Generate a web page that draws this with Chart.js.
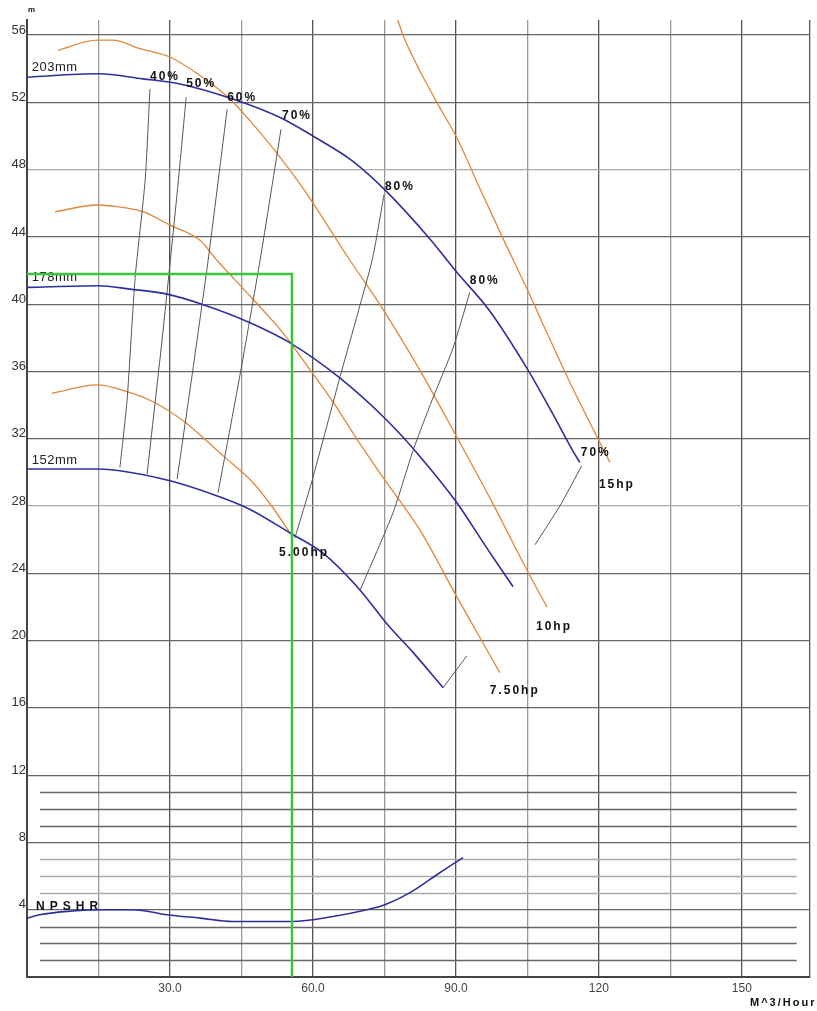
<!DOCTYPE html>
<html>
<head>
<meta charset="utf-8">
<script src="https://cdn.jsdelivr.net/npm/chart.js@4.4.1/dist/chart.umd.min.js"></script>
<style>
html, body { margin: 0; padding: 0; background: #fff; }
#wrap { width: 817px; height: 1011px; position: relative; }
</style>
</head>
<body>
<div id="wrap"><canvas id="curva"></canvas></div>
<script>
// ───── DADOS ─────
const X_TICKS    = [30, 60, 90, 120, 150];
const X_TICK_TXT = ["30.0", "60.0", "90.0", "120", "150"];
const Y_TICKS    = [4, 8, 12, 16, 20, 24, 28, 32, 36, 40, 44, 48, 52, 56];
const NPSH_GRID  = [1, 2, 3, 5, 6, 7, 9, 10, 11];

// rotor curves (m³/h, m)
const IMP_203 = [[0,53.5],[14.9,53.7],[24.3,53.4],[32.1,53.1],[43.2,52.2],[53.1,51.1],[60,50.0],[68.4,48.5],[75.1,46.8],[84.5,43.9],[90.2,41.9],[97.1,39.6],[105.1,36.1],[110.3,33.5],[114.5,31.3],[116,30.6]];
const IMP_178 = [[0.2,41.0],[14.9,41.1],[21.6,40.9],[29.4,40.6],[36.7,40.0],[46.8,38.9],[55.2,37.7],[65.7,35.6],[75.5,33.1],[82.0,31.1],[90.2,28.2],[96.5,25.5],[102.0,23.2]];
const IMP_152 = [[0.2,30.2],[14.9,30.2],[19.5,30.1],[30.0,29.5],[39.9,28.6],[46.8,27.8],[55.2,26.4],[62.1,25.2],[69.9,23.0],[75.5,21.0],[81.0,19.3],[87.3,17.2]];

// potência
const HP_5   = [[5.2,34.7],[14.7,35.2],[21.0,34.8],[26.4,34.2],[33.1,33.0],[41.1,31.0],[47.4,29.4],[51.6,27.9],[55.2,26.4]];
const HP_75  = [[5.9,45.5],[14.7,45.9],[18.9,45.8],[24.3,45.5],[30.0,44.7],[36.3,43.8],[39.9,42.6],[47.4,40.3],[53.7,38.3],[59.4,36.1],[64.2,34.2],[69.2,32.0],[74.7,29.7],[82.4,26.6],[90.2,22.6],[95.0,20.2],[99.2,18.1]];
const HP_10  = [[6.5,55.1],[14.7,55.7],[18.0,55.7],[23.7,55.2],[30.0,54.7],[36.3,53.6],[42.6,52.2],[46.8,50.9],[52.4,49.0],[57.9,46.9],[67.8,42.6],[74.7,39.7],[82.4,36.1],[90.2,32.1],[97.1,28.5],[104.9,24.2],[109.1,22.0]];
const HP_15  = [[77.8,56.9],[78.9,56.0],[86.0,52.0],[90.2,49.9],[95.0,46.9],[99.9,43.9],[105.1,40.8],[109.1,38.3],[114.5,35.0],[120.0,31.9],[122.3,30.6]];

// iso-rendimento
const EFF_40  = [[25.8,52.8],[24.8,47.4],[22.7,41.6],[21.0,34.3],[19.5,30.3]];
const EFF_50  = [[33.4,52.3],[31.5,46.6],[28.5,38.3],[25.2,29.9]];
const EFF_60  = [[42.0,51.6],[38.0,42.6],[34.8,36.1],[31.5,29.6]];
const EFF_70A = [[53.3,50.4],[48.9,42.6],[44.7,35.8],[40.1,28.8]];
const EFF_80A = [[74.9,46.5],[72.4,42.6],[65.7,35.7],[59.8,29.5],[56.2,26.1]];
const EFF_80B = [[92.9,40.7],[89.4,37.4],[85.0,34.3],[81.0,31.3],[76.8,27.6],[69.9,23.0]];
const EFF_70B = [[116.4,30.4],[111.8,28.0],[106.6,25.7]];
const EFF_70C = [[87.3,17.2],[92.3,19.1]];

// ponto de trabalho
const OPER = [[0,41.8],[55.6,41.8],[55.6,0]];

const NPSHR = [[0,3.5],[2.7,3.7],[8.4,3.9],[14.9,4.0],[22.2,4.0],[29.4,3.7],[36.3,3.5],[43.2,3.3],[55.6,3.3],[64.2,3.6],[71.3,4.0],[75.1,4.3],[80.3,5.0],[86.6,6.2],[91.5,7.1]];

// textos: [texto, x, y]
const ROTOR_TXT = [["203mm", 1.0, 54.1], ["178mm", 1.0, 41.6], ["152mm", 1.0, 30.7]];
const BOLD_TXT  = [
    ["40%", 25.8, 53.5], ["50%", 33.4, 53.1], ["60%", 42.0, 52.3], ["70%", 53.5, 51.2],
    ["80%", 75.1, 47.0], ["80%", 92.9, 41.4], ["70%", 116.2, 31.2],
    ["15hp", 120.0, 29.3], ["10hp", 106.8, 20.8], ["7.50hp", 97.1, 17.0], ["5.00hp", 52.9, 25.2]
];

const AZUL    = "#2f2f9c";
const LARANJA = "#e0883a";
const CINZA   = "#555";
const VERDE   = "#3cc43c";

const pts = arr => arr.map(p => ({ x: p[0], y: p[1] }));
// curvas de x -> monotone; linhas de rendimento quase retas
const curva = (arr, cor, w) => ({ data: pts(arr), borderColor: cor, borderWidth: w, cubicInterpolationMode: "monotone", pointRadius: 0, fill: false });
const reta  = (arr, cor, w, t) => ({ data: pts(arr), borderColor: cor, borderWidth: w, tension: t, pointRadius: 0, fill: false });

const extras = {
    id: "extras",
    beforeDatasetsDraw(chart) {
        const { ctx, scales: { x, y } } = chart;
        ctx.save();
        NPSH_GRID.forEach(v => {
            const py = Math.round(y.getPixelForValue(v)) + 0.5;
            ctx.strokeStyle = (v >= 5 && v <= 7) ? "#aaa" : "#666";
            ctx.lineWidth = 1.3;
            ctx.beginPath();
            ctx.moveTo(x.getPixelForValue(2.7), py);
            ctx.lineTo(x.getPixelForValue(161.5), py);
            ctx.stroke();
        });
        ctx.fillStyle = "#222";
        ctx.font = '13px "Liberation Sans"';
        ctx.letterSpacing = "0.5px";
        ctx.textBaseline = "middle";
        ROTOR_TXT.forEach(t => ctx.fillText(t[0], x.getPixelForValue(t[1]), y.getPixelForValue(t[2])));
        ctx.restore();
    },
    afterDatasetsDraw(chart) {
        const { ctx, scales: { x, y } } = chart;
        ctx.save();
        ctx.fillStyle = "#111";
        ctx.textBaseline = "middle";
        ctx.font = 'bold 12px "Liberation Sans"';
        ctx.letterSpacing = "2px";
        BOLD_TXT.forEach(t => ctx.fillText(t[0], x.getPixelForValue(t[1]), y.getPixelForValue(t[2])));
        ctx.letterSpacing = "5px";
        ctx.fillText("NPSHR", x.getPixelForValue(1.9), y.getPixelForValue(4.2));
        ctx.letterSpacing = "2px";
        ctx.font = 'bold 11px "Liberation Sans"';
        ctx.fillText("M^3/Hour", 750, 1003);
        ctx.letterSpacing = "0px";
        ctx.font = 'bold 8px "Liberation Sans"';
        ctx.fillText("m", 28, 10);
        ctx.restore();
    }
};

new Chart(document.getElementById("curva"), {
    type: "line",
    data: {
        datasets: [
            reta(OPER, VERDE, 2.5, 0),
            curva(NPSHR, AZUL, 1.6),
            curva(IMP_203, AZUL, 1.6),
            curva(IMP_178, AZUL, 1.6),
            curva(IMP_152, AZUL, 1.6),
            reta(EFF_40, CINZA, 1, 0.2),
            reta(EFF_50, CINZA, 1, 0.2),
            reta(EFF_60, CINZA, 1, 0.2),
            reta(EFF_70A, CINZA, 1, 0.2),
            reta(EFF_80A, CINZA, 1, 0.2),
            reta(EFF_80B, CINZA, 1, 0.2),
            reta(EFF_70B, CINZA, 1, 0.2),
            reta(EFF_70C, CINZA, 1, 0),
            curva(HP_5, LARANJA, 1.3),
            curva(HP_75, LARANJA, 1.3),
            curva(HP_10, LARANJA, 1.3),
            curva(HP_15, LARANJA, 1.3),
        ]
    },
    options: {
        responsive: true, maintainAspectRatio: false, animation: false,
        layout: { padding: { top: 20, right: 7, left: 0, bottom: 0 } },
        plugins: { legend: { display: false }, tooltip: { enabled: false } },
        scales: {
            x: {
                type: "linear", min: 0, max: 164.3,
                afterBuildTicks: s => {
                    const t = [];
                    for (let v = 0; v <= 150; v += 15) t.push({ value: v });
                    t.push({ value: s.max });
                    s.ticks = t;
                },
                afterFit: s => { s.height = 34; },
                grid: {
                    drawTicks: false, lineWidth: 1.3,
                    color: c => (c.tick && (c.tick.value % 30 === 0 || c.tick.value > 160)) ? "#555" : "#999"
                },
                border: { color: "#444", width: 2 },
                ticks: {
                    autoSkip: false, maxRotation: 0, padding: 4, color: "#444",
                    font: { family: "Liberation Sans", size: 12 },
                    callback: v => { const i = X_TICKS.indexOf(v); return i >= 0 ? X_TICK_TXT[i] : ""; }
                }
            },
            y: {
                type: "linear", min: 0, max: 56.9,
                afterBuildTicks: s => { s.ticks = [0, ...Y_TICKS].map(v => ({ value: v })); },
                afterFit: s => { s.width = 27; },
                grid: {
                    drawTicks: false, lineWidth: 1.3,
                    color: c => (c.tick && (c.tick.value === 48 || c.tick.value === 28)) ? "#aaa" : "#666"
                },
                border: { color: "#444", width: 2 },
                ticks: {
                    autoSkip: false, padding: 1, labelOffset: -5, color: "#333",
                    font: { family: "Liberation Sans", size: 13 },
                    callback: v => (Y_TICKS.includes(v) ? String(v) : "")
                }
            }
        }
    },
    plugins: [extras]
});
</script>
</body>
</html>
